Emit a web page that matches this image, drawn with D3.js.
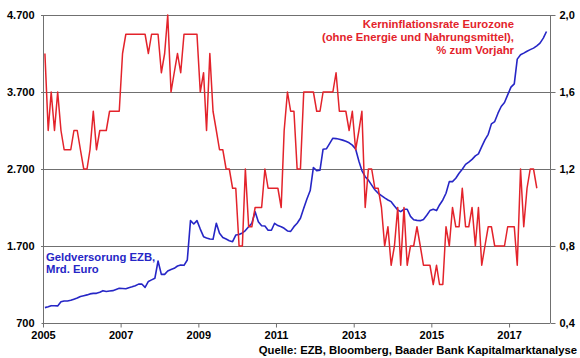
<!DOCTYPE html>
<html><head><meta charset="utf-8">
<script src="https://cdn.jsdelivr.net/npm/d3@7"></script>
<style>
html,body{margin:0;padding:0;background:#fff;}
svg{display:block;font-family:"Liberation Sans",Arial,sans-serif;font-weight:bold;}
</style></head>
<body><svg id="c" width="580" height="358"></svg>
<script>
// Kerninflationsrate Eurozone, % zum Vorjahr (monthly, from Jan 2005)
const coreInflation = [
1.8,1.4,1.6,1.4,1.6,1.4,1.3,1.3,1.3,1.4,1.4,1.3,
1.2,1.2,1.3,1.5,1.3,1.4,1.4,1.4,1.5,1.5,1.5,1.5,
1.8,1.9,1.9,1.9,1.9,1.9,1.9,1.9,1.8,1.9,1.9,1.9,
1.7,1.8,2.0,1.6,1.7,1.8,1.7,1.9,1.9,1.9,1.9,1.9,
1.6,1.7,1.4,1.8,1.5,1.4,1.3,1.3,1.2,1.2,1.1,1.1,
0.8,0.8,1.2,0.9,0.9,1.0,1.0,1.0,1.2,1.1,1.1,1.1,
1.1,1.0,1.4,1.6,1.5,1.5,1.2,1.2,1.6,1.6,1.6,1.6,
1.5,1.5,1.6,1.6,1.6,1.6,1.7,1.5,1.5,1.5,1.4,1.5,
1.3,1.4,1.5,1.0,1.2,1.2,1.1,1.1,1.0,0.8,0.9,0.7,
0.8,1.0,0.7,1.0,0.7,0.8,0.8,0.9,0.8,0.7,0.7,0.7,
0.6,0.7,0.6,0.6,0.9,0.8,1.0,0.9,0.9,1.1,0.9,0.9,
1.0,0.8,1.0,0.7,0.8,0.9,0.9,0.8,0.8,0.8,0.8,0.9,
0.9,0.9,0.7,1.2,0.9,1.1,1.2,1.2,1.1
];
// Geldversorgung EZB, Mrd. Euro (monthly, from Jan 2005)
const moneySupply = [
900,910,925,924,922,975,986,986,995,1010,1025,1045,
1055,1065,1078,1085,1085,1100,1120,1110,1115,1120,1135,1150,
1148,1145,1158,1170,1185,1205,1207,1163,1240,1260,1280,1505,
1332,1332,1375,1395,1410,1440,1453,1449,1518,2029,1986,2029,
1920,1821,1805,1790,1787,1995,1865,1810,1790,1769,1756,1842,
1850,1870,1900,1950,1995,2146,2016,1964,1960,1905,1905,1995,
1965,1950,1930,1895,1890,1951,1995,2060,2190,2310,2420,2720,
2679,2685,2957,2962,3030,3100,3095,3087,3075,3060,3040,3010,
2960,2800,2680,2600,2555,2490,2430,2385,2355,2325,2298,2276,
2220,2168,2146,2177,2177,2085,2040,2033,2029,2045,2100,2160,
2177,2160,2233,2298,2385,2536,2536,2580,2645,2697,2760,2790,
2825,2870,2896,2991,3078,3150,3286,3316,3425,3512,3564,3663,
3763,3806,4127,4183,4205,4230,4250,4270,4300,4335,4400,4486
];
const leftTicks = [700,1700,2700,3700,4700];
const leftTickLabels = ["700","1.700","2.700","3.700","4.700"];
const rightTicks = [0.4,0.8,1.2,1.6,2.0];
const rightTickLabels = ["0,4","0,8","1,2","1,6","2,0"];
const yearTicks = [2005,2007,2009,2011,2013,2015,2017];
const redLabel = ["Kerninflationsrate Eurozone","(ohne Energie und Nahrungsmittel),","% zum Vorjahr"];
const blueLabel = ["Geldversorung EZB,","Mrd. Euro"];
const source = "Quelle: EZB, Bloomberg, Baader Bank Kapitalmarktanalyse";

const RED = "#e3232b", BLUE = "#2626c6", GRID = "#707070";
const L = 43, R = 550, T = 15, B = 323;
const svg = d3.select("#c");
const x = d3.scaleTime().domain([new Date(2005,0,1), new Date(2018,0,21)]).range([L,R]);
const yL = d3.scaleLinear().domain([700,4700]).range([B,T]);
const yR = d3.scaleLinear().domain([0.4,2.0]).range([B,T]);
const dateOf = i => new Date(2005, i, 19);

// gridlines
svg.append("g").selectAll("line").data(leftTicks.slice(1)).join("line")
  .attr("x1",L-2).attr("x2",R).attr("y1",d=>Math.round(yL(d))+0.5).attr("y2",d=>Math.round(yL(d))+0.5)
  .attr("stroke",GRID).attr("stroke-width",1);

// axes
const fs = 11;
const axL = svg.append("g").attr("transform",`translate(${L+0.5},0)`)
  .call(d3.axisLeft(yL).tickValues(leftTicks).tickFormat((d,i)=>leftTickLabels[i]).tickSize(2).tickPadding(7));
const axR = svg.append("g").attr("transform",`translate(${R+0.5},0)`)
  .call(d3.axisRight(yR).tickValues(rightTicks).tickFormat((d,i)=>rightTickLabels[i]).tickSize(5).tickPadding(4));
const axB = svg.append("g").attr("transform",`translate(0,${B+0.5})`)
  .call(d3.axisBottom(x).tickValues(yearTicks.map(y=>new Date(y,0,1))).tickFormat(d=>d.getFullYear()).tickSize(4).tickPadding(4));
[axL,axR,axB].forEach(a=>{
  a.selectAll(".domain").attr("stroke",GRID);
  a.selectAll(".tick line").attr("stroke",GRID);
  a.selectAll("text").attr("font-family","Liberation Sans, Arial, sans-serif")
    .attr("font-weight","bold").attr("font-size",fs).attr("fill","#000");
});
axL.select(".domain").attr("d",`M0,${T}V${B}`);
axR.select(".domain").attr("d",`M0,${T}V${B}`);
axB.select(".domain").attr("d",`M${L},0H${R}`);

// lines
const lineL = d3.line().x((d,i)=>x(dateOf(i))).y(d=>yL(d));
const lineR = d3.line().x((d,i)=>x(dateOf(i))).y(d=>yR(d));
svg.append("path").datum(moneySupply).attr("d",lineL).attr("fill","none")
  .attr("stroke",BLUE).attr("stroke-width",1.6).attr("stroke-linejoin","round");
svg.append("path").datum(coreInflation).attr("d",lineR).attr("fill","none")
  .attr("stroke",RED).attr("stroke-width",1.5).attr("stroke-linejoin","round");

// labels
svg.append("g").selectAll("text").data(redLabel).join("text")
  .attr("x",514).attr("y",(d,i)=>28+i*13).attr("text-anchor","end")
  .attr("font-size",11.3).attr("fill",RED).text(d=>d);
svg.append("g").selectAll("text").data(blueLabel).join("text")
  .attr("x",46).attr("y",(d,i)=>260.5+i*12.5)
  .attr("font-size",11.3).attr("fill",BLUE).text(d=>d);
svg.append("text").attr("x",577).attr("y",354).attr("text-anchor","end")
  .attr("font-size",11.3).attr("fill","#000").text(source);
</script></body></html>
